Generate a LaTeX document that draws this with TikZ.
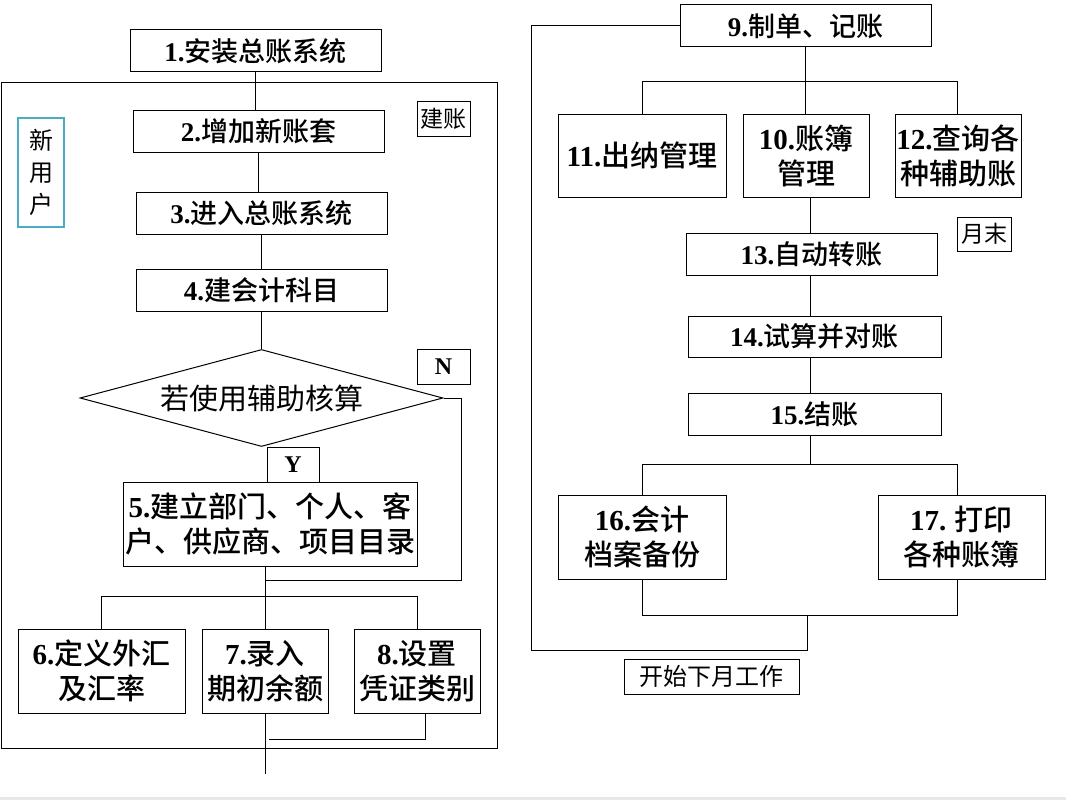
\documentclass[tikz,border=0pt]{standalone}
\usepackage{fontspec}
\setmainfont{Liberation Serif}
\newfontfamily\cjk{Noto Sans CJK SC}
\newfontfamily\cjkm{Noto Sans CJK SC Medium}
\usetikzlibrary{positioning, calc, shapes.geometric}
\definecolor{tealFrame}{RGB}{75,172,198}
\definecolor{stripGray}{RGB}{232,232,232}
\newcommand{\stepnum}[1]{{\rmfamily\bfseries #1}}

\begin{document}
\begin{tikzpicture}[x=1pt, y=-1pt, line width=1pt,
    flowbox/.style={draw, rectangle, inner sep=0pt, align=center, font=\cjkm\fontsize{27}{33}\selectfont},
    tallbox/.style={flowbox, font=\cjkm\fontsize{29}{35}\selectfont},
    tagbox/.style={draw, rectangle, inner sep=0pt, font=\cjk\fontsize{23}{28}\selectfont},
    letterbox/.style={draw, rectangle, inner sep=0pt, font=\rmfamily\bfseries\fontsize{24}{28}\selectfont}]
  \useasboundingbox (0,0) rectangle (1066,800);
  \fill[stripGray] (0,797) rectangle (1066,800);

  % left column: setting up the books
  \draw (1,83) rectangle (497,748);
  \node[flowbox, minimum width=251pt, minimum height=42pt] (install) at (255.5,51) {\stepnum{1.}安装总账系统};
  \node[flowbox, minimum width=251pt, minimum height=42pt] (newset) at (258.5,131) {\stepnum{2.}增加新账套};
  \node[flowbox, minimum width=251pt, minimum height=42pt] (enter) at (261.5,213) {\stepnum{3.}进入总账系统};
  \node[flowbox, minimum width=251pt, minimum height=42pt] (subjects) at (261.5,290) {\stepnum{4.}建会计科目};
  \node[draw, diamond, aspect=3.74, inner sep=0pt, minimum width=363pt, minimum height=97pt,
    font=\cjk\fontsize{29}{35}\selectfont] (check) at (261.5,398) {若使用辅助核算};
  \node[tallbox, minimum width=294pt, minimum height=84pt] (dirs) at (270,524)
    {\stepnum{5.}建立部门、个人、客\\户、供应商、项目目录};
  \node[tallbox, minimum width=167pt, minimum height=84pt] (rates) at (101.5,671) {\stepnum{6.}定义外汇\\及汇率};
  \node[tallbox, minimum width=126pt, minimum height=84pt] (balance) at (265,671) {\stepnum{7.}录入\\期初余额};
  \node[tallbox, minimum width=126pt, minimum height=84pt] (vouchers) at (417,671) {\stepnum{8.}设置\\凭证类别};

  \node[tagbox, minimum width=53pt, minimum height=35pt] (setuptag) at (443.5,118.5) {建账};
  \node[draw=tealFrame, line width=2.5pt, inner sep=0pt, minimum width=46pt, minimum height=109pt,
    align=center, font=\cjk\fontsize{24}{32}\selectfont] (newuser) at (41,172.5) {新\\用\\户};
  \node[letterbox, minimum width=53pt, minimum height=35pt] (notag) at (443.5,366.5) {N};
  \node[letterbox, minimum width=52pt, minimum height=35pt] (yestag) at (293,464.5) {Y};

  \draw (install.south) -- (install.south |- newset.north);
  \draw (newset.south) -- (newset.south |- enter.north);
  \draw (enter.south) -- (enter.south |- subjects.north);
  \draw (subjects.south) -- (subjects.south |- check.north);
  \coordinate (nback) at (461,580);
  \draw (check.east) -| (nback) -- (balance.north |- nback);
  \draw (balance.north |- dirs.south) -- (balance.north);
  \draw (rates.north) -- ++(0,-32) -| (vouchers.north);
  \coordinate (leftexit) at (265,774);
  \draw (balance.south) -- (leftexit);
  \draw ([xshift=8pt]vouchers.south) |- ($(balance.south)+(4,26)$);

  % right column: monthly work
  \node[flowbox, minimum width=251pt, minimum height=42pt] (posting) at (805.5,26) {\stepnum{9.}制单、记账};
  \node[tallbox, minimum width=168pt, minimum height=83pt] (cashier) at (642,155.5) {\stepnum{11.}出纳管理};
  \node[tallbox, minimum width=126pt, minimum height=83pt] (ledgers) at (806,155.5) {\stepnum{10.}账簿\\管理};
  \node[tallbox, minimum width=126pt, minimum height=83pt] (query) at (958,155.5) {\stepnum{12.}查询各\\种辅助账};
  \node[tagbox, minimum width=54pt, minimum height=34pt] (monthend) at (984,234) {月末};
  \node[flowbox, minimum width=251pt, minimum height=42pt] (transfer) at (811.5,254) {\stepnum{13.}自动转账};
  \node[flowbox, minimum width=253pt, minimum height=41pt] (trial) at (814.5,336.5) {\stepnum{14.}试算并对账};
  \node[flowbox, minimum width=253pt, minimum height=42pt] (closing) at (814.5,414) {\stepnum{15.}结账};
  \node[tallbox, minimum width=168pt, minimum height=84pt] (backup) at (642,537) {\stepnum{16.}会计\\档案备份};
  \node[tallbox, minimum width=167pt, minimum height=84pt] (printing) at (961.5,537) {\stepnum{17.} 打印\\各种账簿};
  \node[tagbox, minimum width=175pt, minimum height=35pt, font=\cjk\fontsize{24}{28}\selectfont] (nextmonth) at (711.5,676.5) {开始下月工作};

  \draw (posting.south) -- (posting.south |- ledgers.north);
  \draw (cashier.north) -- ++(0,-32) -| ([xshift=-1pt]query.north);
  \draw ([xshift=4pt]ledgers.south) -- ([xshift=4pt]ledgers.south |- transfer.north);
  \draw ([xshift=-1.5pt]transfer.south) -- ([xshift=-1.5pt]transfer.south |- trial.north);
  \draw ([xshift=-4.5pt]trial.south) -- ([xshift=-4.5pt]trial.south |- closing.north);
  \draw ([xshift=-4.5pt]closing.south) -- ++(0,29) coordinate (split);
  \draw (backup.north) |- (split) -| ([xshift=-4.5pt]printing.north);
  \draw (backup.south) -- ++(0,36) coordinate (merge) -| ([xshift=-4.5pt]printing.south);
  \coordinate (join) at (807,615);
  \draw (join) -- ++(0,35) -| ($(posting.west)+(-148,0)$) -- (posting.west);
\end{tikzpicture}
\end{document}
